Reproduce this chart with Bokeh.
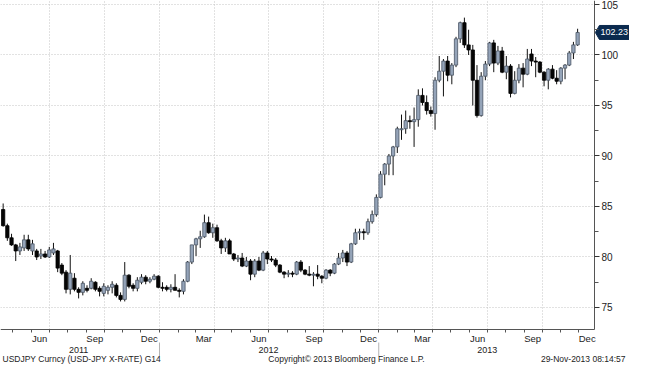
import numpy as np
import pandas as pd
from bokeh.plotting import figure
from bokeh.models import FixedTicker, Label, Range1d, ColumnDataSource
from bokeh.embed import file_html
from bokeh.resources import INLINE

# ---- data: USDJPY weekly candles (week ending Friday) ----
dates = pd.date_range("2011-04-15", "2013-11-29", freq="W-FRI")

opens = [84.7, 83.1, 81.9, 81.2, 80.6, 80.9, 81.7, 80.6, 80.6, 80.1,
         80.3, 80.0, 80.4, 80.6, 79.2, 78.5, 76.8, 77.9, 76.8, 76.5,
         76.9, 76.9, 77.5, 76.9, 76.4, 76.7, 77.0, 77.2, 76.2, 75.8,
         78.2, 77.2, 76.9, 77.5, 78.0, 77.6, 77.8, 78.1, 77.0, 77.0,
         76.8, 77.0, 76.7, 76.6, 77.6, 79.5, 81.2, 81.8, 82.0, 83.4,
         82.4, 82.9, 81.6, 80.9, 81.6, 80.3, 79.8, 79.9, 79.1, 79.6,
         78.3, 79.6, 78.7, 80.4, 79.8, 79.7, 79.2, 78.5, 78.3, 78.4,
         78.3, 79.5, 78.7, 78.3, 78.2, 78.3, 78.1, 77.9, 78.7, 78.4,
         79.3, 79.9, 80.4, 79.5, 81.3, 82.4, 82.5, 82.4, 83.5, 84.2,
         85.9, 88.2, 89.2, 90.0, 90.9, 92.6, 92.7, 93.5, 93.4, 93.6,
         96.0, 95.3, 94.5, 94.2, 97.5, 98.4, 99.4, 98.0, 99.0, 101.6,
         103.2, 101.0, 100.5, 97.5, 94.0, 97.9, 99.1, 101.2, 99.2, 100.4,
         98.3, 98.9, 96.2, 97.5, 98.7, 98.1, 100.1, 99.4, 99.3, 98.3,
         97.5, 98.6, 97.7, 97.4, 98.7, 99.0, 100.2, 101.0]

highs = [85.3, 83.3, 82.3, 81.3, 81.4, 82.2, 82.2, 81.7, 80.8, 80.8,
         80.6, 81.0, 81.4, 80.7, 79.4, 78.7, 80.2, 78.4, 77.0, 77.6,
         77.2, 77.9, 77.6, 77.1, 77.4, 77.2, 77.6, 77.4, 76.5, 79.5,
         78.3, 77.4, 78.0, 78.3, 78.2, 78.0, 78.3, 78.2, 77.5, 77.2,
         77.3, 78.3, 76.9, 77.8, 79.6, 81.2, 81.9, 82.6, 84.2, 84.0,
         83.3, 83.2, 81.8, 81.9, 81.8, 80.4, 80.2, 80.4, 80.0, 79.8,
         79.8, 80.0, 80.6, 80.6, 80.1, 79.9, 79.3, 78.6, 78.7, 78.6,
         79.6, 79.7, 78.8, 79.1, 78.5, 79.2, 78.2, 78.8, 78.8, 79.4,
         80.4, 80.7, 80.6, 81.4, 82.8, 82.8, 82.8, 83.8, 84.6, 86.2,
         88.5, 89.3, 90.2, 91.0, 92.9, 94.1, 94.5, 94.0, 94.8, 96.6,
         96.7, 96.0, 94.9, 97.8, 99.9, 99.6, 99.9, 99.2, 101.8, 103.3,
         103.7, 102.5, 101.0, 99.0, 98.3, 99.4, 101.3, 101.5, 100.9, 100.8,
         99.9, 99.1, 98.4, 99.1, 99.2, 100.6, 100.6, 99.8, 99.4, 98.4,
         98.7, 99.0, 98.5, 98.8, 99.1, 100.4, 101.3, 102.6]

lows = [83.0, 81.6, 81.1, 79.6, 80.2, 80.6, 80.6, 80.2, 79.7, 79.8,
        79.9, 79.9, 80.2, 78.5, 78.2, 76.4, 76.3, 76.6, 75.9, 76.2,
        76.5, 76.8, 76.6, 76.1, 76.1, 76.3, 76.4, 76.0, 75.6, 75.6,
        76.9, 76.6, 76.6, 77.3, 77.3, 77.4, 77.7, 76.9, 76.6, 76.6,
        76.5, 76.7, 76.0, 76.3, 77.5, 79.3, 80.1, 80.9, 81.9, 82.3,
        81.9, 81.5, 80.3, 80.5, 80.3, 79.6, 79.5, 79.0, 79.0, 77.7,
        78.0, 78.6, 78.6, 79.3, 79.5, 79.0, 78.4, 77.9, 78.0, 78.0,
        78.2, 78.5, 78.2, 78.1, 77.1, 77.8, 77.4, 77.8, 78.1, 78.3,
        79.2, 79.5, 79.1, 79.4, 81.2, 81.7, 81.7, 82.2, 83.3, 84.0,
        85.8, 87.1, 88.1, 88.1, 90.3, 91.6, 92.2, 92.7, 90.9, 92.9,
        95.0, 94.1, 93.9, 92.6, 97.3, 95.9, 97.4, 97.1, 98.8, 101.2,
        100.7, 100.0, 95.0, 93.8, 93.9, 97.5, 98.9, 98.3, 99.0, 98.2,
        97.6, 95.8, 96.1, 97.2, 96.8, 98.0, 98.9, 97.8, 98.2, 96.9,
        96.6, 97.6, 97.1, 97.1, 97.6, 98.9, 99.6, 100.9]

closes = [83.1, 81.9, 81.2, 80.6, 81.0, 81.7, 80.8, 81.3, 80.0, 80.3,
          80.0, 80.7, 80.8, 78.9, 78.4, 76.8, 78.4, 76.8, 76.5, 77.4,
          76.7, 77.6, 76.8, 76.6, 77.1, 77.0, 77.3, 76.2, 75.8, 78.2,
          77.1, 76.9, 77.7, 78.0, 77.6, 77.8, 78.1, 77.0, 76.9, 76.8,
          77.0, 76.7, 76.6, 77.6, 79.5, 81.2, 81.8, 82.0, 83.4, 82.4,
          82.9, 81.6, 80.9, 81.6, 80.3, 79.8, 79.9, 79.1, 79.6, 78.3,
          79.6, 78.7, 80.4, 79.8, 79.7, 79.2, 78.5, 78.3, 78.4, 78.3,
          79.5, 78.7, 78.3, 78.2, 78.3, 78.1, 77.9, 78.7, 78.4, 79.3,
          79.9, 80.4, 79.5, 81.3, 82.4, 82.5, 82.4, 83.5, 84.2, 85.9,
          88.2, 89.2, 90.0, 90.9, 92.7, 92.7, 93.5, 93.4, 93.6, 96.0,
          95.3, 94.5, 94.2, 97.5, 98.4, 99.4, 98.0, 99.0, 101.6, 103.2,
          101.0, 100.5, 97.5, 94.0, 97.9, 99.1, 101.2, 99.2, 100.4, 98.3,
          98.9, 96.2, 97.5, 98.7, 98.1, 99.6, 99.4, 99.3, 98.3, 97.5,
          98.6, 97.7, 97.4, 98.7, 99.0, 100.2, 101.0, 102.23]

y_ticks = [75, 80, 85, 90, 95, 100, 105]
y_minor_ticks = [77.5, 82.5, 87.5, 92.5, 97.5, 102.5]

month_tick_dates = ["2011-06-15", "2011-09-15", "2011-12-15", "2012-03-15",
                    "2012-06-15", "2012-09-15", "2012-12-15", "2013-03-15",
                    "2013-06-15", "2013-09-15", "2013-12-15"]
month_labels = ["Jun", "Sep", "Dec", "Mar", "Jun", "Sep", "Dec",
                "Mar", "Jun", "Sep", "Dec"]
year_label_dates = ["2011-08-19", "2012-07-01", "2013-07-01"]
year_labels = ["2011", "2012", "2013"]
year_breaks = ["2012-01-01", "2013-01-01"]

footer_left = "USDJPY Curncy (USD-JPY X-RATE) G14"
footer_mid = "Copyright\u00a9 2013 Bloomberg Finance L.P."
footer_right = "29-Nov-2013 08:14:57"


def ms(s):
    return float(pd.Timestamp(s).value // 10**6)


t = dates.values.astype("datetime64[ms]").astype("int64").astype(float)
n = min(len(t), len(opens))
t = t[:n]
o = np.array(opens[:n]); h = np.array(highs[:n]); l = np.array(lows[:n]); c = np.array(closes[:n])
up = c >= o

# ---- geometry (whole canvas is the frame; axes are pinned inside it) ----
W, H = 629, 364
x_start = ms("2011-04-10 14:00")       # left edge
x_axis = ms("2013-12-27")              # price axis position
x_end = x_start + (x_axis - x_start) * 645.0 / 609.0
y_hi = 105.396                         # top edge
y_axis = 72.822                        # time axis position
y_lo = y_hi - H / 10.1                 # bottom edge
ppx = W / (x_end - x_start)            # canvas px per ms
ppy = H / (y_hi - y_lo)                # canvas px per unit
FONT = "Liberation Sans"
TXT = "#222222"


def dx(px):
    return px / ppx


def dy(px):
    return px / ppy


p = figure(width=W, height=H, output_backend="svg", toolbar_location=None,
           x_range=Range1d(x_start, x_end), y_range=Range1d(y_lo, y_hi),
           y_axis_location="right", min_border=0)
p.outline_line_color = None
p.background_fill_color = "white"
p.border_fill_color = "white"

# gridlines
grid_ticks = [ms(d) for d in pd.date_range("2011-07-01", "2013-10-01", freq="QS")]
p.xgrid.ticker = FixedTicker(ticks=grid_ticks)
p.xgrid.cross_bounds = (y_axis, y_hi)
p.ygrid.cross_bounds = (x_start, x_axis)
for g in (p.xgrid, p.ygrid):
    g.grid_line_color = "#c4c4c4"
    g.grid_line_dash = "1 2"
    g.grid_line_width = 1

# candles
day = 86400000.0
src_up = ColumnDataSource(dict(x=t[up], o=o[up], c=c[up], h=h[up], l=l[up]))
src_dn = ColumnDataSource(dict(x=t[~up], o=o[~up], c=c[~up], h=h[~up], l=l[~up]))
for s in (src_up, src_dn):
    p.segment(x0="x", y0="l", x1="x", y1="h", source=s, line_color="#111111", line_width=1)
p.vbar(x="x", width=5.5 * day, bottom="o", top="c", source=src_up,
       fill_color="#95a4b9", line_color="#4a5664", line_width=0.8)
p.vbar(x="x", width=5.5 * day, bottom="o", top="c", source=src_dn,
       fill_color="#050505", line_color="#000000", line_width=0.8)

# right price axis, pinned at x_axis
ya = p.yaxis[0]
ya.fixed_location = x_axis
ya.bounds = (y_axis, y_hi)
ya.ticker = FixedTicker(ticks=y_ticks, minor_ticks=y_minor_ticks)
ya.axis_line_color = "#555555"
ya.major_tick_line_color = "#333333"
ya.minor_tick_line_color = "#555555"
ya.major_tick_out = 5
ya.major_tick_in = 0
ya.minor_tick_out = 4
ya.minor_tick_in = 0
ya.major_label_standoff = 2
ya.major_label_text_font = FONT
ya.major_label_text_font_size = "10px"
ya.major_label_text_color = TXT

# month axis, pinned at y_axis
xa = p.xaxis[0]
xa.fixed_location = y_axis
xa.bounds = (x_start, x_axis)
month_ticks = [ms(d) for d in month_tick_dates]
minor_month = [ms(d) for d in pd.date_range("2011-05-01", "2013-12-01", freq="MS")]
xa.ticker = FixedTicker(ticks=month_ticks, minor_ticks=minor_month)
xa.major_label_overrides = {int(tk): lab for tk, lab in zip(month_ticks, month_labels)}
xa.axis_line_color = "#555555"
xa.major_tick_line_color = None
xa.minor_tick_line_color = "#555555"
xa.minor_tick_out = 3
xa.minor_tick_in = 0
xa.major_tick_out = 3
xa.major_tick_in = 0
xa.major_label_standoff = 1
xa.major_label_text_font = FONT
xa.major_label_text_font_size = "9.5px"
xa.major_label_text_color = TXT

# year row: separators and labels
yb = [ms(d) for d in year_breaks]
p.segment(x0=yb, x1=yb, y0=[y_axis - dy(13)] * len(yb), y1=[y_axis - dy(27)] * len(yb),
          line_color="#b4b4b4", line_width=1)
for d, lab in zip(year_label_dates, year_labels):
    p.add_layout(Label(x=ms(d), y=y_axis - dy(20.5), text=lab, text_align="center",
                       text_baseline="middle", text_font=FONT,
                       text_font_size="9px", text_color=TXT))

# footer
fy = y_axis - dy(30)
for txt, xp, al in ((footer_left, 2, "left"), (footer_mid, 346, "center"),
                    (footer_right, 625, "right")):
    p.add_layout(Label(x=x_start + dx(xp), y=fy, text=txt, text_align=al,
                       text_baseline="middle", text_font=FONT,
                       text_font_size="8.5px", text_color=TXT))

# last price tag
last = closes[-1]
th = dy(7)
p.patch(x=[x_axis + dx(1), x_axis + dx(5), x_end, x_end, x_axis + dx(5)],
        y=[last, last + th, last + th, last - th, last - th],
        fill_color="#0b2a4e", line_color="#0b2a4e")
p.add_layout(Label(x=x_axis + dx(6), y=last, text=f"{last:.2f}", text_align="left",
                   text_baseline="middle", text_font=FONT, text_font_size="9px",
                   text_color="white"))

open("out.html", "w").write(file_html(p, INLINE))
